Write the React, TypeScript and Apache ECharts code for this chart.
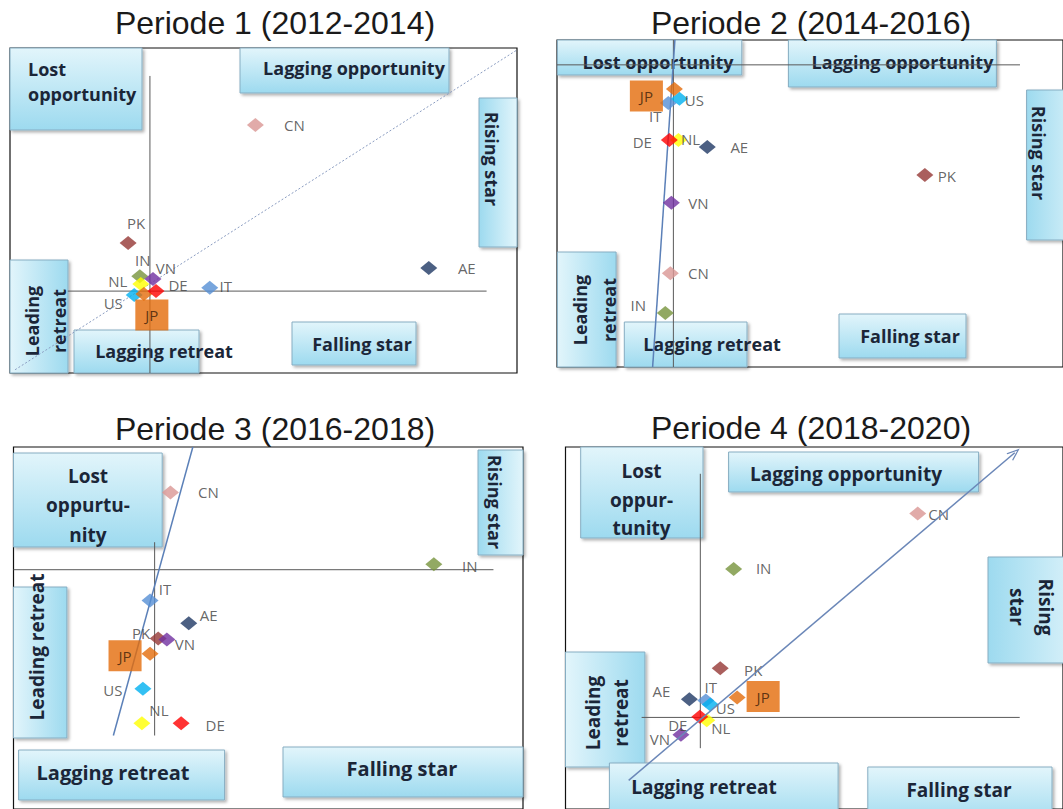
import { useEffect, useRef } from "react";
import * as echarts from "echarts";

// ---------- DATA ----------
const COUNTRIES = ["CN", "PK", "IN", "AE", "IT", "VN", "US", "NL", "JP", "DE"];
const PERIOD_TITLES = [
  "Periode 1 (2012-2014)",
  "Periode 2 (2014-2016)",
  "Periode 3 (2016-2018)",
  "Periode 4 (2018-2020)",
];

// values in % of each plot frame (x: left->right, y: bottom->top), order = COUNTRIES
const P1_X = [48.4, 23.3, 25.6, 82.6, 39.4, 28.2, 24.5, 25.8, 26.4, 28.8];
const P1_Y = [76.3, 40.0, 29.8, 32.3, 26.2, 28.9, 24.0, 27.4, 24.3, 25.2];
const P2_X = [22.4, 72.7, 21.4, 29.7, 22.0, 22.6, 24.2, 24.0, 23.2, 22.2];
const P2_Y = [28.7, 58.7, 16.5, 67.3, 80.7, 50.2, 82.0, 69.4, 85.0, 69.4];
const P3_X = [30.8, 28.4, 82.5, 34.4, 26.8, 30.1, 25.4, 25.2, 26.8, 32.9];
const P3_Y = [87.4, 47.1, 67.6, 51.3, 57.6, 46.8, 33.2, 23.7, 42.9, 23.7];
const P4_X = [70.8, 31.1, 33.8, 24.9, 28.2, 23.2, 29.1, 28.4, 34.5, 27.0];
const P4_Y = [81.6, 38.9, 66.3, 30.3, 30.0, 20.5, 28.9, 24.5, 30.8, 25.5];

// quadrant cross lines: vertical [x, yFrom, yTo], horizontal [y, xFrom, xTo]
const CROSS_V = [
  [27.6, 0, 91.4],
  [23.0, 0, 100],
  [27.7, 20.3, 73.7],
  [27.1, 16.8, 92.6],
];
const CROSS_H = [
  [25.2, 11.4, 94.0],
  [92.4, 0, 91.5],
  [66.1, 0, 94.2],
  [25.3, 15.3, 91.3],
];
// trend lines [x1, y1, x2, y2]
const TREND = [
  [1, 1, 100, 99.4],
  [18.9, 0, 23.3, 100],
  [19.6, 20.3, 35.2, 100],
  [12.7, 7.9, 90.3, 98.4],
];

// ---------- STYLE / LAYOUT ----------
const COLORS: Record<string, string> = {
  CN: "#d99694",
  PK: "#953735",
  IN: "#77933c",
  AE: "#1f3864",
  IT: "#558ed5",
  VN: "#7030a0",
  US: "#00b0f0",
  NL: "#ffff00",
  JP: "#e46c0a",
  DE: "#ff0000",
};

const GRIDS = [
  { left: 10, top: 48, width: 507, height: 325 },
  { left: 557, top: 40, width: 520, height: 327 },
  { left: 13.5, top: 447, width: 509.5, height: 380 },
  { left: 565.5, top: 447, width: 520, height: 380 },
];

const TITLE_POS = [
  [275, 23],
  [811, 23],
  [275, 429],
  [811, 428],
];

// label centre offsets from the marker (px), order = COUNTRIES
const LABEL_OFFSETS = [
  [[39, 0], [8, -20], [3, -16], [38, 0], [16, -2], [13, -11], [-21, 8], [-23, -3], [8, 21], [22, -6]],
  [[28, 0], [22, 1], [-27, -8], [32, 0], [-13, 13], [27, 0], [15, 1], [12, -1], [-28, 7], [-27, 2]],
  [[38, -1], [-17, -5], [36, 2], [20, -8], [15, -11], [18, 4], [-30, 1], [17, -13], [-25, 2], [34, 2]],
  [[21, 0], [33, 2], [30, -1], [-28, -8], [5, -13], [-21, 4], [15, 4], [14, 8], [26, -1], [-22, 8]],
];

type Box = {
  r: number[];
  t: string;
  tx: number;
  ty: number;
  rot?: number;
  fs?: number;
  lh?: number;
  align?: string;
};

const BOXES: Box[] = [
  // panel 1
  { r: [10, 48, 132, 82], t: "Lost\nopportunity", tx: 28, ty: 81, align: "left", fs: 18, lh: 25 },
  { r: [240, 48, 209, 45], t: "Lagging opportunity", tx: 354, ty: 68, fs: 18 },
  { r: [479, 98, 38, 149], t: "Rising star", tx: 492, ty: 159, rot: -90, fs: 18 },
  { r: [10, 260, 58, 113], t: "Leading\nretreat", tx: 45, ty: 321, rot: 90, fs: 18, lh: 27 },
  { r: [74, 330, 125, 43], t: "Lagging retreat", tx: 164, ty: 351, fs: 18 },
  { r: [292, 322, 124, 43], t: "Falling star", tx: 362, ty: 344, fs: 18 },
  // panel 2
  { r: [557.4, 40, 184.4, 35], t: "Lost opportunity", tx: 658, ty: 62, fs: 18 },
  { r: [788.4, 40, 208, 47], t: "Lagging opportunity", tx: 902.5, ty: 62, fs: 18 },
  { r: [1026.6, 90, 60, 150], t: "Rising star", tx: 1039, ty: 153, rot: -90, fs: 18 },
  { r: [557.4, 252, 58.7, 115], t: "Leading\nretreat", tx: 594, ty: 310, rot: 90, fs: 18, lh: 29 },
  { r: [624.3, 322, 122.7, 45], t: "Lagging retreat", tx: 712, ty: 344, fs: 18 },
  { r: [839, 314, 127, 44], t: "Falling star", tx: 910, ty: 336, fs: 18 },
  // panel 3
  { r: [13.5, 453, 148.7, 94], t: "Lost\noppurtu-\nnity", tx: 88, ty: 505, fs: 19, lh: 29.5 },
  { r: [478, 450, 45, 105], t: "Rising star", tx: 495, ty: 502, rot: -90, fs: 18 },
  { r: [13.5, 587, 53.4, 151], t: "Leading retreat", tx: 37, ty: 647, rot: 90, fs: 19 },
  { r: [18.6, 750, 206, 50], t: "Lagging retreat", tx: 113, ty: 772, fs: 20 },
  { r: [283, 747, 240, 50], t: "Falling star", tx: 402, ty: 768, fs: 20 },
  // panel 4
  { r: [580.7, 447, 122.3, 91], t: "Lost\noppur-\ntunity", tx: 641.5, ty: 499.5, fs: 19, lh: 28.5 },
  { r: [728.6, 452, 250, 40], t: "Lagging opportunity", tx: 846, ty: 474, fs: 19 },
  { r: [988, 557, 100, 106], t: "Rising\nstar", tx: 1031, ty: 607, rot: -90, fs: 19, lh: 29 },
  { r: [565.5, 652, 79.4, 115], t: "Leading\nretreat", tx: 607, ty: 713, rot: 90, fs: 19, lh: 28.7 },
  { r: [609.4, 763, 228.7, 60], t: "Lagging retreat", tx: 704, ty: 787, fs: 19 },
  { r: [867.8, 767, 184.2, 60], t: "Falling star", tx: 959, ty: 790, fs: 19 },
];

const PANEL_X = [P1_X, P2_X, P3_X, P4_X];
const PANEL_Y = [P1_Y, P2_Y, P3_Y, P4_Y];

const BOX_FONT = '"Open Sans", "Noto Sans", sans-serif';
const LABEL_FONT = '"Open Sans", "Noto Sans", sans-serif';
const ARROW = "path://M0,14 L6,0 L12,14 L10.4,14 L6,3.6 L1.6,14 Z";
const BOX_LIGHT = "#e2f5fb";
const BOX_DARK = "#9ddaef";

function buildOption() {
  const grid = GRIDS.map((g) => ({
    ...g,
    show: true,
    borderColor: "#111",
    borderWidth: 1.2,
    backgroundColor: "transparent",
  }));
  const xAxis = GRIDS.map((_, i) => ({ type: "value", gridIndex: i, min: 0, max: 100, show: false }));
  const yAxis = GRIDS.map((_, i) => ({ type: "value", gridIndex: i, min: 0, max: 100, show: false }));

  const series: any[] = [];
  for (let i = 0; i < 4; i++) {
    const xs = PANEL_X[i];
    const ys = PANEL_Y[i];
    const v = CROSS_V[i];
    const h = CROSS_H[i];
    const tr = TREND[i];
    series.push({
      type: "line",
      xAxisIndex: i,
      yAxisIndex: i,
      data: [
        [v[0], v[1]],
        [v[0], v[2]],
      ],
      symbol: "none",
      silent: true,
      z: 2,
      lineStyle: { color: "#595959", width: 1 },
    });
    series.push({
      type: "line",
      xAxisIndex: i,
      yAxisIndex: i,
      data: [
        [h[1], h[0]],
        [h[2], h[0]],
      ],
      symbol: "none",
      silent: true,
      z: 2,
      lineStyle: { color: "#595959", width: 1 },
    });
    if (i < 3) {
      series.push({
        type: "line",
        xAxisIndex: i,
        yAxisIndex: i,
        data: [
          [tr[0], tr[1]],
          [tr[2], tr[3]],
        ],
        symbol: "none",
        silent: true,
        z: 2,
        lineStyle:
          i === 0
            ? { color: "#8a9cc0", width: 1, type: [2, 2] }
            : { color: "#5b80b8", width: 1.5 },
      });
    }
    const data = COUNTRIES.map((c, k) => {
      const off = LABEL_OFFSETS[i][k];
      const label: any = { offset: off };
      if (c === "JP") {
        label.backgroundColor = "#e46c0a";
        label.padding = [8, 10];
        label.color = "#3a1d08";
      }
      return { name: c, value: [xs[k], ys[k]], itemStyle: { color: COLORS[c] }, label };
    });
    const s: any = {
      type: "scatter",
      xAxisIndex: i,
      yAxisIndex: i,
      symbol: "diamond",
      symbolSize: [17, 14],
      z: 4,
      silent: true,
      data,
      label: {
        show: true,
        position: "inside",
        formatter: "{b}",
        fontFamily: LABEL_FONT,
        fontSize: 15,
        color: "#404040",
        textBorderWidth: 0,
      },
      emphasis: { disabled: true },
    };
    if (i === 3) {
      s.markLine = {
        silent: true,
        symbol: ["none", ARROW],
        symbolSize: [10, 13],
        label: { show: false },
        lineStyle: { color: "#6b87b8", width: 1.5, type: "solid" },
        emphasis: { disabled: true },
        data: [[{ coord: [tr[0], tr[1]] }, { coord: [tr[2], tr[3]] }]],
      };
    }
    series.push(s);
  }

  const elements: any[] = [];
  PERIOD_TITLES.forEach((t, i) => {
    elements.push({
      type: "text",
      x: TITLE_POS[i][0],
      y: TITLE_POS[i][1],
      z: 10,
      style: {
        text: t,
        fill: "#1a1a1a",
        fontSize: 32,
        fontFamily: '"Liberation Sans", Arial, sans-serif',
        align: "center",
        verticalAlign: "middle",
      },
    });
  });
  BOXES.forEach((b) => {
    const rot = b.rot || 0;
    const stops = [
      { offset: 0, color: BOX_LIGHT },
      { offset: 1, color: BOX_DARK },
    ];
    const grad =
      rot === -90
        ? new echarts.graphic.LinearGradient(1, 0, 0, 0, stops)
        : rot === 90
        ? new echarts.graphic.LinearGradient(0, 0, 1, 0, stops)
        : new echarts.graphic.LinearGradient(0, 0, 0, 1, stops);
    elements.push({
      type: "rect",
      z: 1,
      shape: { x: b.r[0], y: b.r[1], width: b.r[2], height: b.r[3] },
      style: {
        fill: grad,
        stroke: "#86adc2",
        lineWidth: 1,
        shadowBlur: 3,
        shadowOffsetX: 2,
        shadowOffsetY: 2,
        shadowColor: "rgba(0,0,0,0.3)",
      },
    });
    elements.push({
      type: "text",
      z: 1,
      x: b.tx,
      y: b.ty,
      rotation: (rot * Math.PI) / 180,
      style: {
        text: b.t,
        fill: "#1b2638",
        fontSize: b.fs || 18,
        fontWeight: "bold",
        fontFamily: BOX_FONT,
        align: b.align || "center",
        verticalAlign: "middle",
        lineHeight: b.lh || (b.fs || 18) * 1.3,
      },
    });
  });

  return {
    animation: false,
    backgroundColor: "#ffffff",
    grid,
    xAxis,
    yAxis,
    series,
    graphic: { elements },
  };
}

export default function App() {
  const ref = useRef<HTMLDivElement>(null);
  useEffect(() => {
    document.body.style.margin = "0";
    const chart = echarts.init(ref.current as HTMLDivElement, null, { renderer: "svg" });
    chart.setOption(buildOption() as any);
    return () => chart.dispose();
  }, []);
  return <div ref={ref} style={{ width: 1063, height: 809 }} />;
}
